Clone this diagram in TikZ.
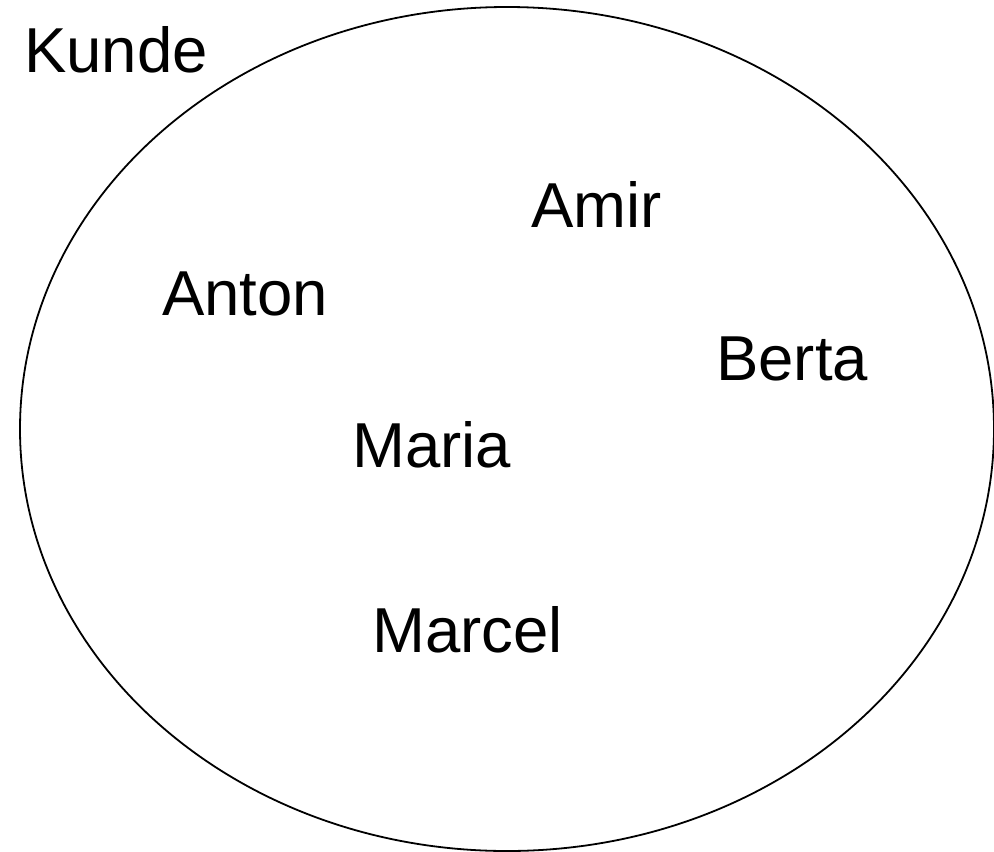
\documentclass[tikz,border=0pt]{standalone}
\usepackage{fontspec}
\setmainfont{Liberation Sans}
\begin{document}
\begin{tikzpicture}[x=1pt,y=-1pt,
		person/.style={anchor=base west,inner sep=0pt,font=\fontsize{63.5}{70}\selectfont}]
			\useasboundingbox (0,0) rectangle (994,852);
			\draw[line width=1.8pt] (507,429) ellipse [x radius=487pt, y radius=422pt];%menge
			
			\node[person] (kunde) at (24,72)  {Kunde};
			\node[person] (amir) at (531,227)  {Amir};
			\node[person] (anton) at (162,315)  {Anton};
			\node[person] (berta) at (716,380)  {Berta};
			\node[person] (maria) at (352,467)  {Maria};
			\node[person] (marcel) at (372,652)  {Marcel};
			
		\end{tikzpicture}
\end{document}
